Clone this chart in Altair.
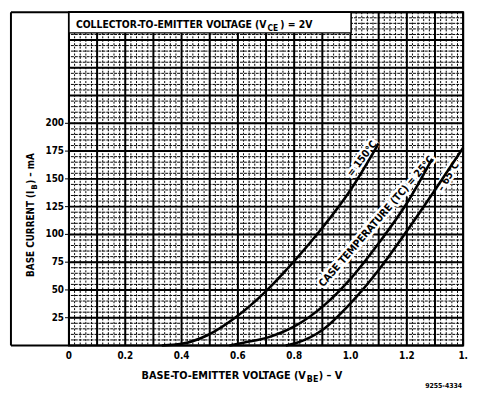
import altair as alt
import pandas as pd

F = "Liberation Sans Narrow, DejaVu Sans Condensed, Arial Narrow, DejaVu Sans, sans-serif"

# ---- data ----
v_150 = [0.33, 0.40, 0.49, 0.59, 0.70, 0.80, 0.90, 1.00, 1.10]
i_150 = [0, 1.5, 9, 25, 49, 76, 106, 140, 182]
v_25 = [0.57, 0.62, 0.71, 0.81, 0.91, 1.00, 1.10, 1.20, 1.29]
i_25 = [0, 2.5, 7.5, 18.5, 37, 60, 92, 128, 168]
v_m65 = [0.77, 0.81, 0.90, 1.00, 1.10, 1.20, 1.30, 1.40]
i_m65 = [0, 2.5, 14, 38, 68, 103, 140, 178]

x_ticks = [0, 0.2, 0.4, 0.6, 0.8, 1.0, 1.2, 1.4]
x_tick_labels = ["0", "0.2", "0.4", "0.6", "0.8", "1.0", "1.2", "1."]
y_ticks = [25, 50, 75, 100, 125, 150, 175, 200]
y_tick_labels = ["25", "50", "75", "100", "125", "150", "175", "200"]
x_major = [0.0, 0.1, 0.2, 0.3, 0.4, 0.5, 0.6, 0.7, 0.8, 0.9, 1.0, 1.1, 1.2, 1.3, 1.4]
x_minor = [round(k * 0.02, 2) for k in range(71)]
y_major = list(range(0, 301, 25))
y_minor = list(range(0, 301, 5))

lab_text = ["= 150°C", "CASE TEMPERATURE (TC) = 25°C", "– 65°C"]
lab_v = [1.042, 1.093, 1.348]
lab_i = [168, 111.5, 152]
lab_angle = [307, 311, 301]

xs = alt.Scale(domain=[0, 1.4], nice=False, zero=False)
ys = alt.Scale(domain=[0, 300], nice=False, zero=False)

curves = pd.concat([
    pd.DataFrame({"V": v_150, "I": i_150, "T": "150"}),
    pd.DataFrame({"V": v_25, "I": i_25, "T": "25"}),
    pd.DataFrame({"V": v_m65, "I": i_m65, "T": "-65"}),
])

def vrules(vals, w, dash=None):
    kw = dict(color="black", strokeWidth=w)
    if dash:
        kw["strokeDash"] = dash
    return alt.Chart(pd.DataFrame({"v": vals})).mark_rule(**kw).encode(
        x=alt.X("v:Q", scale=xs, axis=None))

def hrules(vals, w, dash=None):
    kw = dict(color="black", strokeWidth=w)
    if dash:
        kw["strokeDash"] = dash
    return alt.Chart(pd.DataFrame({"i": vals})).mark_rule(**kw).encode(
        y=alt.Y("i:Q", scale=ys, axis=None))

one = pd.DataFrame({"a": [0]})

def txt(s, x, y, size=10, align="left", baseline="alphabetic", angle=0):
    kw = dict(text=s, align=align, baseline=baseline, fontSize=size, font=F,
              fontWeight="bold", color="black")
    if angle:
        kw["angle"] = angle
    return alt.Chart(one).mark_text(**kw).encode(x=alt.value(x), y=alt.value(y))

def prule(x, x2, y, y2, w=2):
    return alt.Chart(one).mark_rule(color="black", strokeWidth=w).encode(
        x=alt.value(x), x2=alt.value(x2), y=alt.value(y), y2=alt.value(y2))

# tick labels drawn through the scales
ylab = alt.Chart(pd.DataFrame({"i": y_ticks, "t": y_tick_labels})).mark_text(
    font=F, fontWeight="bold", fontSize=10, color="black", align="right", baseline="middle"
).encode(x=alt.value(-5), y=alt.Y("i:Q", scale=ys, axis=None), text="t:N")
ytick = alt.Chart(pd.DataFrame({"i": y_ticks})).mark_rule(color="black", strokeWidth=1).encode(
    x=alt.value(-4), x2=alt.value(0), y=alt.Y("i:Q", scale=ys, axis=None))
xlab = alt.Chart(pd.DataFrame({"v": x_ticks, "t": x_tick_labels})).mark_text(
    font=F, fontWeight="bold", fontSize=10, color="black", align="center", baseline="middle"
).encode(x=alt.X("v:Q", scale=xs, axis=None), y=alt.value(350), text="t:N")

line = alt.Chart(curves).mark_line(color="black", strokeWidth=2.6, interpolate="monotone").encode(
    x=alt.X("V:Q", scale=xs, axis=None),
    y=alt.Y("I:Q", scale=ys, axis=None),
    detail="T:N")

labs = pd.DataFrame({"t": lab_text, "V": lab_v, "I": lab_i, "a": lab_angle})
halo = alt.Chart(labs).mark_text(font=F, fontWeight="bold", fontSize=10.5, color="white",
                                  stroke="white", strokeWidth=5, align="center",
                                  baseline="middle").encode(
    x=alt.X("V:Q", scale=xs, axis=None), y=alt.Y("I:Q", scale=ys, axis=None),
    text="t:N", angle=alt.Angle("a:Q", scale=None))
labtxt = alt.Chart(labs).mark_text(font=F, fontWeight="bold", fontSize=10.5, color="black",
                                    align="center", baseline="middle").encode(
    x=alt.X("V:Q", scale=xs, axis=None), y=alt.Y("I:Q", scale=ys, axis=None),
    text="t:N", angle=alt.Angle("a:Q", scale=None))

box = alt.Chart(one).mark_rect(fill="white", stroke="black", strokeWidth=1.5).encode(
    x=alt.value(0), x2=alt.value(287), y=alt.value(0), y2=alt.value(21))

layers = [
    vrules(x_minor, 1.0, [2, 1.5]),
    hrules(y_minor, 1.0, [3, 1]),
    vrules(x_major, 2),
    hrules(y_major, 2),
    halo, labtxt,
    line,
    box,
    ylab, ytick, xlab,
    txt("COLLECTOR-TO-EMITTER VOLTAGE (V", 201, 16, size=10.5, align="right"),
    txt("CE", 202, 19, size=8.5),
    txt(") = 2V", 215, 16, size=10.5),
    txt("BASE-TO-EMITTER VOLTAGE (V", 241, 373, size=11, align="right"),
    txt("BE", 242, 376, size=9),
    txt(") – V", 254, 373, size=11),
    txt("BASE CURRENT (I", -35.5, 181.5, size=10, align="right", angle=270),
    txt("B", -32.5, 180.5, size=8, align="left", angle=270),
    txt(") – mA", -35.5, 174.5, size=10, align="left", angle=270),
    txt("9255-4334", 400, 382, size=7, align="right"),
    prule(-59, -59, 0, 339),
    prule(-59, 0, 0, 0),
    prule(-59, 0, 339, 339),
]

chart = alt.layer(*layers).properties(
    width=401, height=339,
    padding={"left": 62, "top": 1, "right": 8, "bottom": 44},
    autosize=alt.AutoSizeParams(type="none"),
).configure_view(stroke="black", strokeWidth=2)

chart.save("out.html", embed_options={"renderer": "svg", "actions": False})
